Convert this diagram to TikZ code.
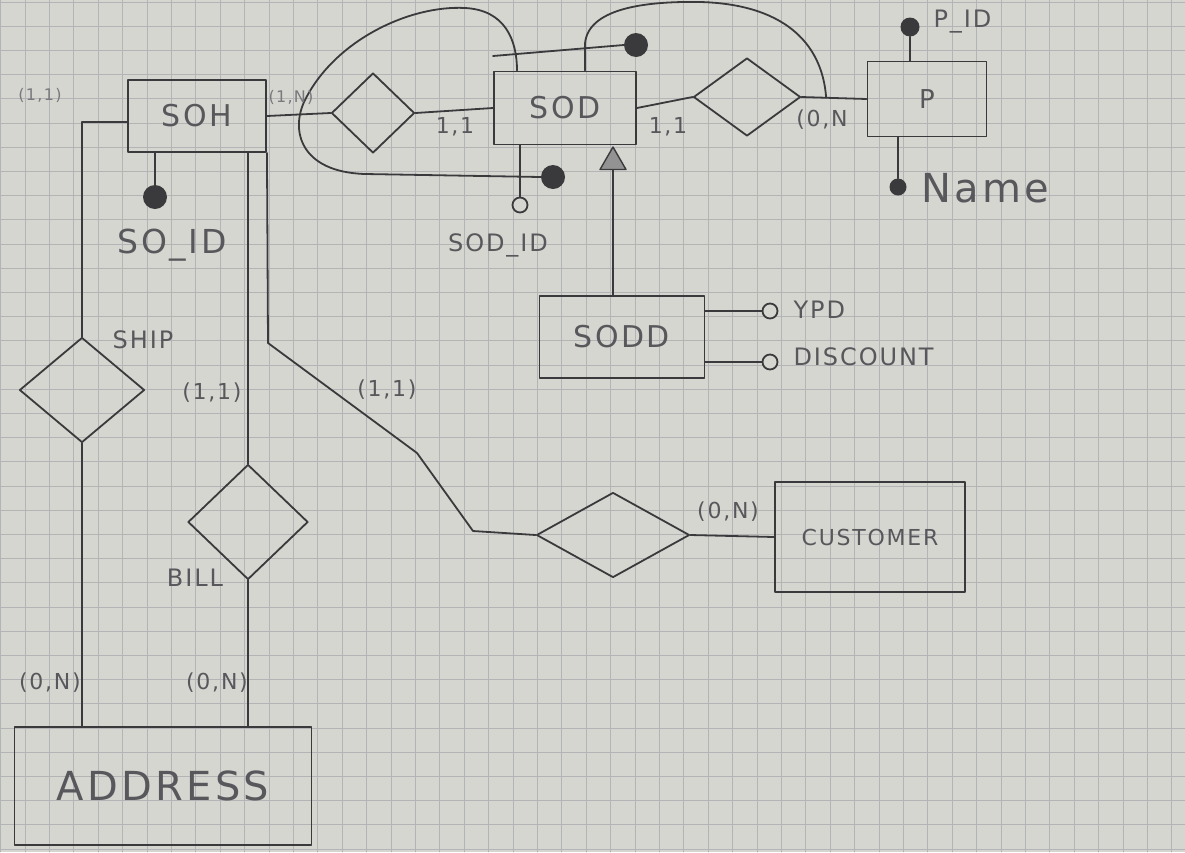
\documentclass[tikz,border=0pt]{standalone}
\usepackage{fontspec}
\usepackage{tikz}
\usetikzlibrary{shapes.geometric,calc}
\newfontfamily\handfont{DejaVu Sans}[LetterSpace=8]
\definecolor{paper}{RGB}{214,214,209}
\definecolor{gridline}{RGB}{178,180,182}
\definecolor{ink}{RGB}{58,58,60}
\definecolor{pencil}{RGB}{88,88,92}
\newcommand{\handsize}[1]{\handfont\fontsize{#1}{#1}\selectfont}
\tikzset{
  entity/.style={draw=ink, line width=1.9pt, rectangle, inner sep=0pt, text=pencil},
  relation/.style={draw=ink, line width=1.8pt, diamond, inner sep=0pt},
  keyattr/.style={circle, fill=ink, inner sep=0pt, minimum size=24pt},
  plainattr/.style={circle, draw=ink, line width=1.8pt, fill=paper, inner sep=0pt, minimum size=15pt},
  isa/.style={regular polygon, regular polygon sides=3, draw=ink, fill=ink!55, line width=1.4pt, inner sep=0pt, minimum size=30pt},
  card/.style={text=pencil, font=\handsize{22}},
  tinycard/.style={text=pencil!80, font=\handsize{16}},
  attrname/.style={text=pencil, font=\handsize{24}},
  link/.style={draw=ink, line width=1.8pt}
}

\begin{document}
\begin{tikzpicture}[x=1pt,y=-1pt,line join=round,line cap=round]
  \useasboundingbox (0,0) rectangle (1185,852);
  \fill[paper] (0,0) rectangle (1185,852);
  % squared paper
  \foreach \gx in {0.6,25,...,1185}
    \draw[gridline, line width=0.8pt] (\gx,0) -- (\gx,852);
  \foreach \gy in {2,26.2,...,852}
    \draw[gridline, line width=0.8pt] (0,\gy) -- (1185,\gy);

  % entities
  \node[entity, minimum width=138pt, minimum height=72pt, font=\handsize{30}] (soh) at (197,116) {SOH};
  \node[entity, minimum width=142pt, minimum height=73pt, font=\handsize{30}] (sod) at (565,108) {SOD};
  \node[entity, minimum width=119pt, minimum height=75pt, font=\handsize{26}] (p) at (927,99) {P};
  \node[entity, minimum width=165pt, minimum height=82pt, font=\handsize{30}] (sodd) at (622,337) {SODD};
  \node[entity, minimum width=190pt, minimum height=110pt, font=\handsize{22}] (customer) at (870,537) {CUSTOMER};
  \node[entity, minimum width=297pt, minimum height=118pt, font=\handsize{40}] (address) at (163,786) {ADDRESS};

  % relationships
  \node[relation, minimum width=83pt, minimum height=80pt] (relsoh) at (373,113) {};
  \node[relation, minimum width=107pt, minimum height=78pt] (relp) at (747,97) {};
  \node[relation, minimum width=125pt, minimum height=105pt] (ship) at (82,390) {};
  \node[relation, minimum width=120pt, minimum height=115pt] (bill) at (248,522) {};
  \node[relation, minimum width=153pt, minimum height=85pt] (custrel) at (613,535) {};

  % connectors
  \draw[link] (soh.east) -- (relsoh.west);
  \draw[link] (relsoh.east) -- (sod.west);
  \draw[link] (sod.east) -- (relp.west);
  \draw[link] (relp.east) -- (p.west);
  \draw[link] ([yshift=-6pt]soh.west) -| (ship.north);
  \draw[link] (ship.south) -- (ship.south |- address.north);
  \draw[link] ([xshift=51pt]soh.south) -- (bill.north);
  \draw[link] (bill.south) -- (bill.south |- address.north);
  \coordinate (bendA) at (268,343);
  \coordinate (bendB) at (417,453);
  \coordinate (bendC) at (473,531);
  \draw[link] (soh.south east) -- (bendA) -- (bendB) -- (bendC) -- (custrel.west);
  \draw[link] (custrel.east) -- (customer.west);

  % identifiers of SOD
  \node[keyattr] (sodkeyA) at (553,177) {};
  \draw[link] (sodkeyA.west) -- (365,174) .. controls (300,172) and (290,130) .. (305,100)
    .. controls (335,40) and (410,5) .. (465,8) .. controls (505,10) and (517,40) .. ([xshift=-48pt]sod.north);
  \node[keyattr] (sodkeyB) at (636,45) {};
  \coordinate (keyBend) at (493,56);
  \draw[link] (sodkeyB.west) -- (keyBend);
  \coordinate (relpTie) at ($(relp.east)!0.38!(p.west)$);
  \draw[link] ([xshift=20pt]sod.north) -- ++(0,-27) .. controls (588,10) and (640,1) .. (700,2)
    .. controls (780,4) and (822,40) .. (relpTie);

  % attributes
  \node[keyattr] (soid) at (155,197) {};
  \draw[link] (soid) -- (soid |- soh.south);
  \node[attrname, font=\handsize{33}] at (172,245) {SO\_ID};
  \node[plainattr] (sodid) at (520,205) {};
  \draw[link] (sodid) -- (sodid |- sod.south);
  \node[attrname] at (498,245) {SOD\_ID};
  \node[isa] (isa) at (613,162) {};
  \draw[link] (isa.south) -- (isa.south |- sodd.north);
  \node[plainattr] (ypd) at (770,311) {};
  \draw[link] (ypd) -- (ypd -| sodd.east);
  \node[attrname, anchor=west] at (790,310) {YPD};
  \node[plainattr] (discount) at (770,362) {};
  \draw[link] (discount) -- (discount -| sodd.east);
  \node[attrname, anchor=west] at (790,357) {DISCOUNT};
  \node[keyattr, minimum size=19pt] (pid) at (910,27) {};
  \draw[link] (pid) -- (pid |- p.north);
  \node[attrname, anchor=west] at (930,22) {P\_ID};
  \node[keyattr, minimum size=17pt] (name) at (898,187) {};
  \draw[link] (name) -- (name |- p.south);
  \node[attrname, anchor=west, font=\handsize{40}] at (918,188) {Name};

  % cardinalities and names
  \node[tinycard] at (40,95) {(1,1)};
  \node[tinycard] at (291,97) {(1,N)};
  \node[card] at (455,127) {1,1};
  \node[card] at (668,127) {1,1};
  \node[card] at (822,120) {(0,N};
  \node[card] at (212,393) {(1,1)};
  \node[card] at (387,390) {(1,1)};
  \node[card] at (728,512) {(0,N)};
  \node[card] at (50,683) {(0,N)};
  \node[card] at (217,683) {(0,N)};
  \node[attrname] at (143,340) {SHIP};
  \node[attrname] at (195,578) {BILL};
\end{tikzpicture}
\end{document}
